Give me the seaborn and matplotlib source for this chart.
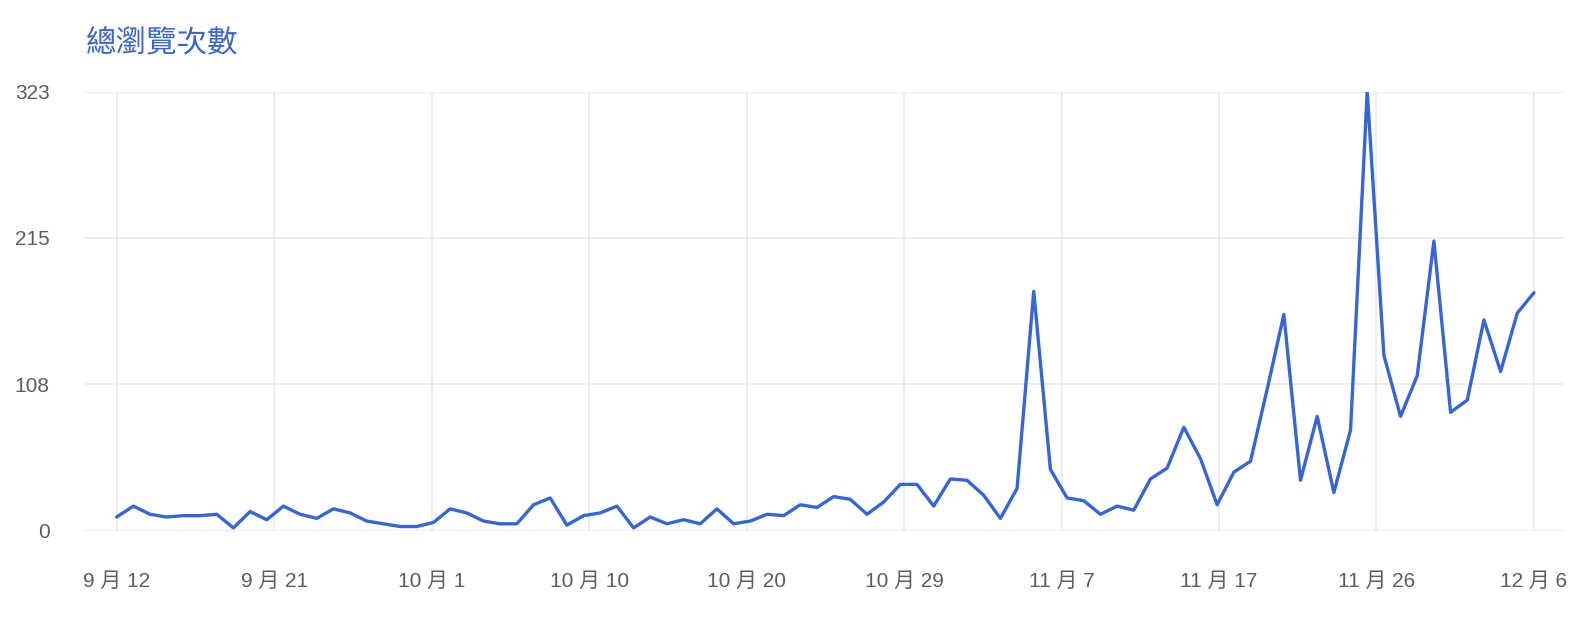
import matplotlib.pyplot as plt
import numpy as np
import pandas as pd
import seaborn as sns


TITEL = "總瀏覽次數"
DAG_INDEKS = list(range(86))
VISNINGER = [
    10, 18, 12, 10, 11, 11, 12, 2, 14, 8,
    18, 12, 9, 16, 13, 7, 5, 3, 3, 6,
    16, 13, 7, 5, 5, 19, 24, 4, 11, 13,
    18, 2, 10, 5, 8, 5, 16, 5, 7, 12,
    11, 19, 17, 25, 23, 12, 21, 34, 34, 18,
    38, 37, 26, 9, 31, 176, 45, 24, 22, 12,
    18, 15, 38, 46, 76, 53, 19, 43, 51, 104,
    159, 37, 84, 28, 74, 323, 129, 84, 114, 213,
    87, 96, 155, 117, 160, 175,
]
X_ETIKETTER = ["9 月 12", "9 月 21", "10 月 1", "10 月 10", "10 月 20",
               "10 月 29", "11 月 7", "11 月 17", "11 月 26", "12 月 6"]
Y_ETIKETTER = ["0", "108", "215", "323"]

LINJEFARGE = "#3565d6"
TEKSTFARGE = "#5a5e63"
RUTENETT = "#ebebeb"


def main() -> None:
    sns.set_theme(style="white")
    plt.rcParams["font.family"] = ["Liberation Sans", "Noto Sans CJK TC", "DejaVu Sans"]

    df = pd.DataFrame({"dag": DAG_INDEKS, "visninger": VISNINGER})

    fig = plt.figure(figsize=(15.93, 6.2), dpi=100)
    ax = fig.add_axes([0.0521, 0.1442, 0.9303, 0.7082])

    sns.lineplot(data=df, x="dag", y="visninger", color=LINJEFARGE, linewidth=2.4, ax=ax)

    ymax = 323
    ax.set_xlim(-2.02, 86.86)
    ax.set_ylim(0, ymax)

    ax.set_xticks(np.linspace(0, 85, len(X_ETIKETTER)))
    ax.set_xticklabels(X_ETIKETTER)
    ax.set_yticks(np.linspace(0, ymax, len(Y_ETIKETTER)))
    ax.set_yticklabels(Y_ETIKETTER)

    ax.grid(True, color=RUTENETT, linewidth=1.2)
    ax.set_axisbelow(True)
    for spine in ax.spines.values():
        spine.set_visible(False)

    ax.tick_params(axis="x", length=0, pad=30, labelsize=15, labelcolor=TEKSTFARGE)
    ax.tick_params(axis="y", length=0, pad=24, labelsize=15, labelcolor=TEKSTFARGE)
    ax.set_xlabel("")
    ax.set_ylabel("")

    fig.text(86 / 1593, 1 - 43 / 620, TITEL, color="#3a66c8", fontsize=22,
             family=["Noto Sans CJK TC", "DejaVu Sans"], ha="left", va="center")

    fig.savefig("out.png", dpi=100)
    plt.close(fig)


if __name__ == "__main__":
    main()
